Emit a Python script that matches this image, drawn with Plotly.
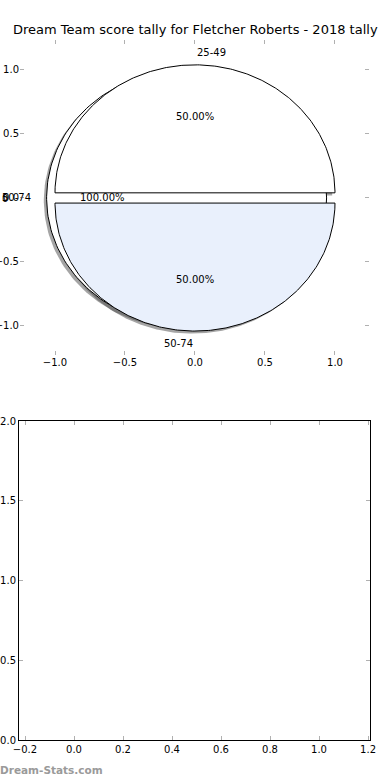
import numpy as np
import plotly.graph_objects as go

title_text = "Dream Team score tally for Fletcher Roberts - 2018 tally"
watermark = "Dream-Stats.com"

# pie wedges (as drawn by the original chart)
wedge_labels = ["50-74", "25-49", "50-74"]
wedge_fractions = [1.0, 0.5, 0.5]
wedge_colors = ["#ffffff", "#ffffff", "#e9f0fc"]
wedge_explode = [0.06, 0.04, 0.04]
extra_label = "0"

top_ticks = [-1.0, -0.5, 0.0, 0.5, 1.0]
bottom_xticks = [-0.2, 0.0, 0.2, 0.4, 0.6, 0.8, 1.0, 1.2]
bottom_yticks = [0.0, 0.5, 1.0, 1.5, 2.0]


def fmt(v):
    s = f"{abs(v):.1f}"
    return ("\u2212" + s) if v < 0 else s


W, H = 390, 780
fig = go.Figure()

# start angles: first wedge is full circle, rest cumulative
starts = [0.0]
acc = 0.0
for f in wedge_fractions[1:]:
    starts.append(acc)
    acc += f * 360
geoms = []
for lab, frac, col, ex, t1 in zip(wedge_labels, wedge_fractions, wedge_colors, wedge_explode, starts):
    t2 = t1 + frac * 360
    mid = np.deg2rad((t1 + t2) / 2)
    cx, cy = ex * np.cos(mid), ex * np.sin(mid)
    th = np.deg2rad(np.linspace(t1, t2, 240))
    xs = cx + np.cos(th)
    ys = cy + np.sin(th)
    if frac < 1.0:
        xs = np.concatenate([[cx], xs, [cx]])
        ys = np.concatenate([[cy], ys, [cy]])
    geoms.append((lab, frac, col, cx, cy, mid, xs, ys))

# shadows first
sh = 0.02
for lab, frac, col, cx, cy, mid, xs, ys in geoms:
    fig.add_trace(go.Scatter(x=xs - sh, y=ys - sh, mode="lines", fill="toself",
                             fillcolor="rgba(75,75,75,0.5)", line=dict(width=0),
                             hoverinfo="skip", showlegend=False, xaxis="x", yaxis="y"))
for lab, frac, col, cx, cy, mid, xs, ys in geoms:
    fig.add_trace(go.Scatter(x=xs, y=ys, mode="lines", fill="toself", fillcolor=col,
                             line=dict(color="black", width=1), hoverinfo="skip",
                             showlegend=False, xaxis="x", yaxis="y"))

annotations = []
font = dict(family="DejaVu Sans", size=10, color="black")
for lab, frac, col, cx, cy, mid, xs, ys in geoms:
    lx = cx + 1.1 * np.cos(mid)
    ly = cy + 1.1 * np.sin(mid)
    ha = "left" if np.cos(mid) > 0 else "right"
    annotations.append(dict(x=lx, y=ly, xref="x", yref="y", text=lab, showarrow=False,
                            xanchor=ha, yanchor="middle", font=font))
    px = cx + 0.6 * np.cos(mid)
    py = cy + 0.6 * np.sin(mid)
    annotations.append(dict(x=px, y=py, xref="x", yref="y", text=f"{frac*100:.2f}%",
                            showarrow=False, xanchor="center", yanchor="middle", font=font))
annotations.append(dict(x=0.0, y=1 - 198 / H, xref="paper", yref="paper", text=extra_label,
                        showarrow=False, xanchor="left", yanchor="middle", font=font, xshift=0))

annotations.append(dict(x=0.5, y=1 - 30 / H, xref="paper", yref="paper", text=title_text,
                        showarrow=False, xanchor="center", yanchor="middle",
                        font=dict(family="DejaVu Sans", size=13, color="black")))
annotations.append(dict(x=0.0, y=1 - 770 / H, xref="paper", yref="paper", text="<b>" + watermark + "</b>",
                        showarrow=False, xanchor="left", yanchor="middle", xshift=-2,
                        font=dict(family="DejaVu Sans", size=10.5, color="#9a9a9a")))

# invisible trace for bottom axes
fig.add_trace(go.Scatter(x=[None], y=[None], xaxis="x2", yaxis="y2", showlegend=False))

tickfont = dict(family="DejaVu Sans", size=10, color="black")
common_tick = dict(ticks="inside", ticklen=4, tickwidth=1, tickcolor="#b0b0b0",
                   showgrid=False, zeroline=False, tickfont=tickfont, automargin=False)

fig.update_layout(
    width=W, height=H, margin=dict(l=0, r=0, t=0, b=0, autoexpand=False),
    paper_bgcolor="white", plot_bgcolor="rgba(0,0,0,0)",
    showlegend=False, annotations=annotations,
    xaxis=dict(domain=[20 / W, 369 / W], range=[-1.25, 1.243], anchor="y",
               tickvals=top_ticks, ticktext=[fmt(v) for v in top_ticks],
               showline=False, mirror="ticks", **common_tick),
    yaxis=dict(domain=[1 - 355 / H, 1 - 40 / H], range=[-1.227, 1.234], anchor="x",
               tickvals=top_ticks, ticktext=[fmt(v) for v in top_ticks],
               showline=False, mirror="ticks", **common_tick),
    xaxis2=dict(domain=[19 / W, 370 / W], range=[-0.2245, 1.208], anchor="y2",
                tickvals=bottom_xticks, ticktext=[fmt(v) for v in bottom_xticks],
                showline=True, linecolor="black", linewidth=1, mirror="ticks", **common_tick),
    yaxis2=dict(domain=[1 - 740 / H, 1 - 421 / H], range=[0, 2], anchor="x2",
                tickvals=bottom_yticks, ticktext=[fmt(v) for v in bottom_yticks],
                showline=True, linecolor="black", linewidth=1, mirror="ticks", **common_tick),
)

fig.write_html("out.html")
